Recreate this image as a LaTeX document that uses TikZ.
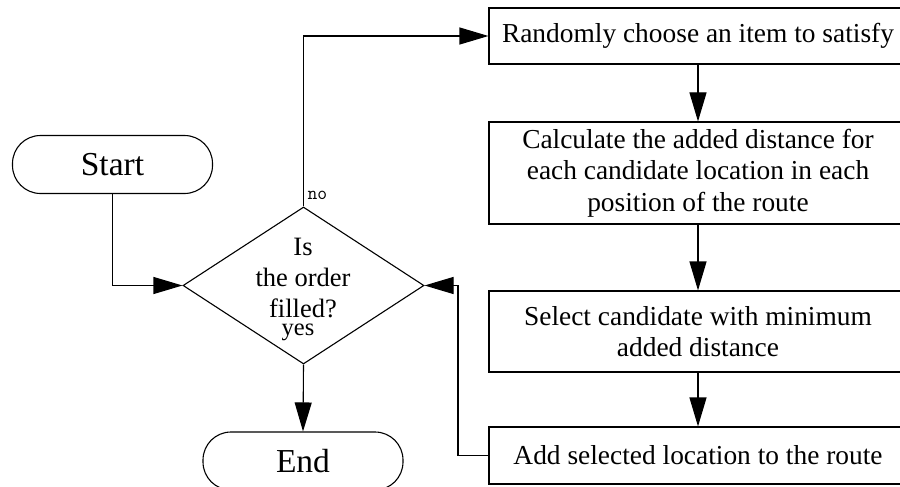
\documentclass[tikz,border=0pt]{standalone}
\usepackage{fontspec}
\setmainfont{Liberation Serif}
\usetikzlibrary{shapes.geometric,arrows.meta}
\begin{document}
\begin{tikzpicture}[x=1pt,y=-1pt,
  line width=1.1pt,
  proc/.style={draw,rectangle,minimum width=418pt,align=center,inner sep=0pt,
    font=\fontsize{27.4}{31.5}\selectfont},
  term/.style={draw,rectangle,rounded corners=28pt,minimum width=200pt,minimum height=58pt,
    inner sep=0pt,font=\fontsize{33.5}{36}\selectfont},
  dec/.style={draw,diamond,minimum width=241pt,minimum height=157pt,inner sep=0pt},
  lbl/.style={inner sep=0pt,align=center,font=\fontsize{26.5}{31}\selectfont},
  arr/.style={-{Triangle[length=29pt,width=17pt]}}]
\useasboundingbox (0,0) rectangle (900,487);
\clip (0,0) rectangle (900,487);
\fill[white] (0,0) rectangle (900,487);
% terminals
\node[term] (start) at (112.5,164.5) {Start};
\node[term] (end) at (303,461) {End};
% decision
\node[dec] (dia) at (303.5,285.5) {};
\node[lbl] (q) at (303,278) {Is\\the order\\filled?};
\node[inner sep=0pt,font=\fontsize{24.5}{26}\selectfont] (yes) at (298,332) {yes};
\node[inner sep=0pt,anchor=west,font=\ttfamily\fontsize{19}{20}\selectfont] (no) at (307,195) {no};
% process boxes
\node[proc,minimum height=56pt] (b1) at (698,36) {Randomly choose an item to satisfy};
\node[proc,minimum height=102pt] (b2) at (698,173) {Calculate the added distance for\\each candidate location in each\\position of the route};
\node[proc,minimum height=81pt] (b3) at (698,331.5) {Select candidate with minimum\\added distance};
\node[proc,minimum height=57pt] (b4) at (698,455.5) {Add selected location to the route};
\coordinate (fb) at (458,285.5);
% connectors
\draw[arr] (start.south) |- (dia.west);
\draw[arr] (dia.north) |- (b1.west);
\draw[arr] (b1.south) -- (b2.north);
\draw[arr] (b2.south) -- (b3.north);
\draw[arr] (b3.south) -- (b4.north);
\draw[arr] (dia.south) -- (end.north);
\draw[arr] (b4.west) -| (fb) -- (dia.east);
\end{tikzpicture}
\end{document}
